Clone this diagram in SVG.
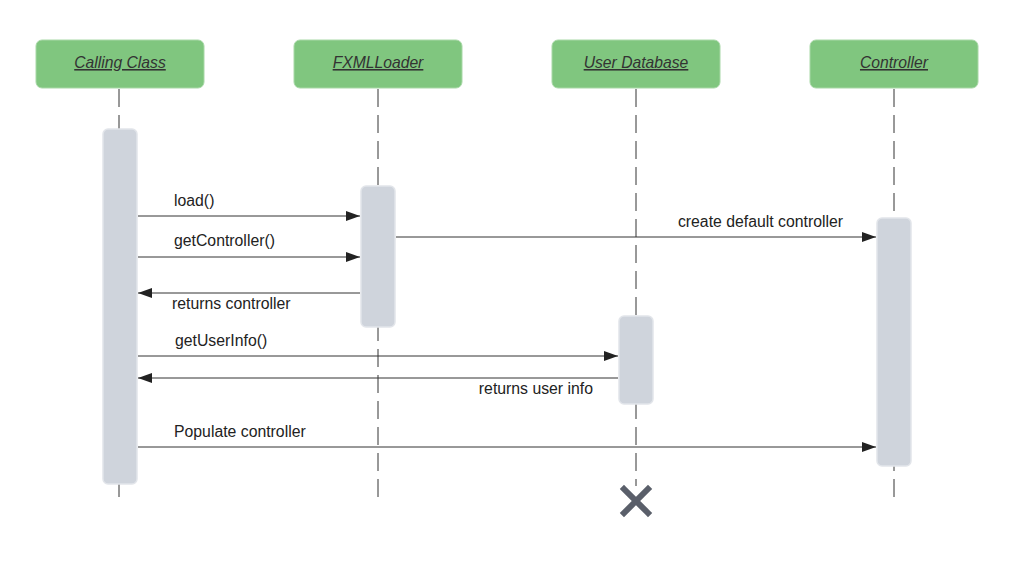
<svg xmlns="http://www.w3.org/2000/svg" width="1024" height="580" viewBox="0 0 1024 580">
<style>
.hdr{fill:#80c67f;stroke:#a8d8a7;stroke-width:1}
.ht{font-family:"Liberation Sans",Arial,sans-serif;font-size:15.7px;font-style:italic;text-decoration:underline;fill:#333;text-anchor:middle}
.life{stroke:#333;stroke-width:1;stroke-dasharray:18 8;fill:none}
.act{fill:#cfd4dc;stroke:#e2e5ea;stroke-width:1.5}
.msg{stroke:#333;stroke-width:1;fill:none;marker-end:url(#ah)}
.lbl{font-family:"Liberation Sans",Arial,sans-serif;font-size:15.8px;fill:#222}
</style>
<defs>
<marker id="ah" viewBox="0 0 14 10" refX="14" refY="5" markerWidth="14" markerHeight="10" markerUnits="userSpaceOnUse" orient="auto">
<path d="M0,0 L14,5 L0,10 Z" fill="#222"/>
</marker>
</defs>
<rect width="1024" height="580" fill="#fff"/>
<g id="lifelines">
<line class="life" x1="119" y1="89" x2="119" y2="498"/>
<line class="life" x1="378" y1="89" x2="378" y2="498"/>
<line class="life" x1="636" y1="89" x2="636" y2="486"/>
<line class="life" x1="894" y1="89" x2="894" y2="502"/>
</g>
<g id="calling-class">
<rect class="hdr" x="36" y="40" width="168" height="48" rx="6"/>
<text class="ht" x="120" y="68">Calling Class</text>
<rect class="act" x="103" y="129" width="34" height="355" rx="5"/>
</g>
<g id="fxmlloader">
<rect class="hdr" x="294" y="40" width="168" height="48" rx="6"/>
<text class="ht" x="378" y="68">FXMLLoader</text>
<rect class="act" x="361" y="186" width="34" height="141" rx="5"/>
</g>
<g id="user-database">
<rect class="hdr" x="552" y="40" width="168" height="48" rx="6"/>
<text class="ht" x="636" y="68">User Database</text>
<rect class="act" x="619" y="316" width="34" height="88" rx="5"/>
<path d="M624,489 L648,513 M648,489 L624,513" stroke="#5a5f6a" stroke-width="6" stroke-linecap="square"/>
</g>
<g id="controller">
<rect class="hdr" x="810" y="40" width="168" height="48" rx="6"/>
<text class="ht" x="894" y="68">Controller</text>
<rect class="act" x="877" y="218" width="34" height="248" rx="5"/>
</g>
<g id="connectors">
<line class="msg" x1="138" y1="216" x2="360" y2="216"/>
<text class="lbl" x="174" y="206">load()</text>
<line class="msg" x1="138" y1="257" x2="360" y2="257"/>
<text class="lbl" x="174" y="246">getController()</text>
<line class="msg" x1="360" y1="293" x2="138" y2="293"/>
<text class="lbl" x="172" y="309">returns controller</text>
<line class="msg" x1="396" y1="237" x2="876" y2="237"/>
<text class="lbl" x="843" y="227" text-anchor="end">create default controller</text>
<line class="msg" x1="138" y1="356" x2="618" y2="356"/>
<text class="lbl" x="175" y="346">getUserInfo()</text>
<line class="msg" x1="618" y1="378" x2="138" y2="378"/>
<text class="lbl" x="593" y="394" text-anchor="end">returns user info</text>
<line class="msg" x1="138" y1="447" x2="876" y2="447"/>
<text class="lbl" x="174" y="437">Populate controller</text>
</g>
</svg>
